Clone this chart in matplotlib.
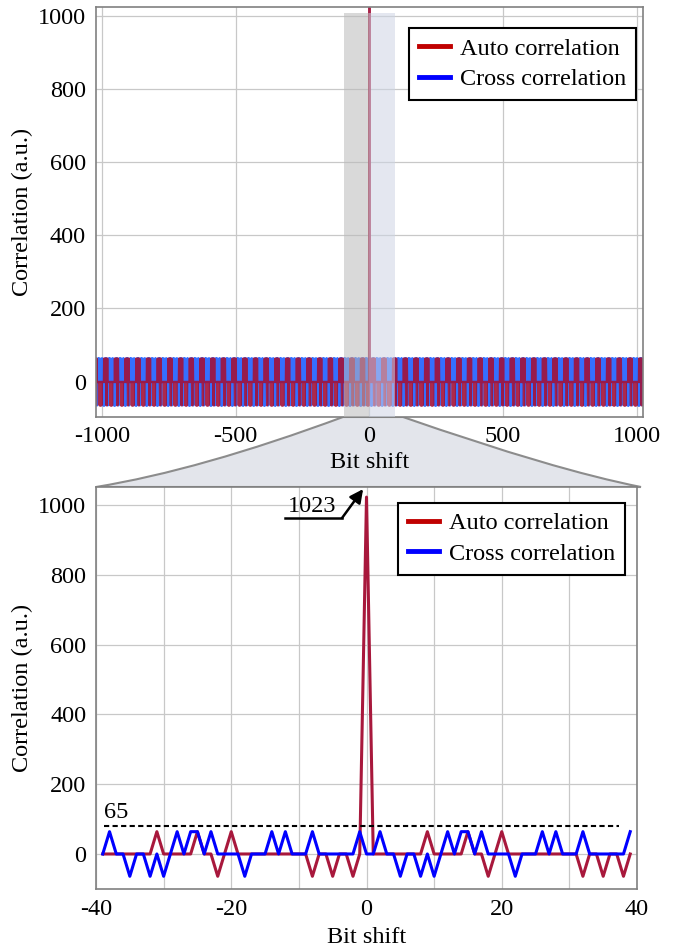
import numpy as np
import matplotlib.pyplot as plt
from matplotlib.lines import Line2D
from matplotlib.patches import PathPatch, Rectangle
from matplotlib.path import Path

plt.rcParams['font.family'] = ['Liberation Serif', 'DejaVu Serif']
plt.rcParams['axes.unicode_minus'] = False

# one 40-bit period, shifts -39..0 (the zoom repeats it)
auto_pattern = np.array([-1, -1, -1, -1, -1, -1, -1, -1, 63, -1,
                         -1, -1, -1, -1, 63, -1, -1, -65, -1, 63,
                         -1, -1, -1, -1, -1, -1, -1, -1, -1, -1,
                         -1, -65, -1, -1, -65, -1, -1, -65, -1, -1])
cross_pattern = np.array([-1, 63, -1, -1, -65, -1, -1, -65, -1, -65,
                          -1, 63, -1, 63, 63, -1, 63, -1, -1, -1,
                          -1, -65, -1, -1, -1, 63, -1, 63, -1, -1,
                          -1, 63, -1, -1, -1, -1, -1, -1, 63, -1])
auto_peak = 1023
code_len = 1023
zoom_shift = np.arange(-39, 40)
full_shift = np.arange(-code_len, code_len + 1)
threshold = 65

def series(shift):
    idx = (shift + 39) % 40
    auto = auto_pattern[idx].astype(float)
    auto[shift == 0] = auto_peak
    return auto, cross_pattern[idx]

auto_full, cross_full = series(full_shift)
auto_zoom, cross_zoom = series(zoom_shift)

FS = 17.5
W, H = 694, 952
fig = plt.figure(figsize=(W / 100, H / 100), dpi=100)
ax1 = fig.add_axes([95.7 / W, 1 - 416.7 / H, 547.3 / W, 410 / H])
ax2 = fig.add_axes([96 / W, 1 - 889 / H, 541 / W, 402 / H])

red_line = '#a8183c'
leg_handles = [Line2D([], [], color='#c00000', lw=3.5),
               Line2D([], [], color='#0000ff', lw=3.5)]
leg_labels = ['Auto correlation', 'Cross correlation']

for ax in (ax1, ax2):
    for s in ax.spines.values():
        s.set_color('#808080')
        s.set_linewidth(1.2)
    ax.tick_params(which='both', length=0, labelsize=FS, pad=7)
    ax.set_axisbelow(True)

# --- top: full range ---
ax1.plot(full_shift, cross_full, color='#1f5fff', lw=1.7, alpha=0.9, zorder=2)
ax1.plot(full_shift, auto_full, color='#a3123a', lw=1.7, alpha=0.9, zorder=2)
ax1.add_patch(Rectangle((-95, -96), 95, 1104, facecolor='#bababa', alpha=0.55,
                        edgecolor='none', zorder=3))
ax1.add_patch(Rectangle((0, -96), 95, 1104, facecolor='#ced5e4', alpha=0.55,
                        edgecolor='none', zorder=3))
ax1.set_xlim(-1023, 1023)
ax1.set_ylim(-96, 1025)
ax1.set_xticks([-1000, -500, 0, 500, 1000])
ax1.set_yticks([0, 200, 400, 600, 800, 1000])
ax1.grid(True, color='#c8c8c8', lw=0.9)
ax1.set_xlabel('Bit shift', fontsize=FS)
ax1.set_ylabel('Correlation (a.u.)', fontsize=FS)
ax1.xaxis.set_label_coords(0.5, -0.085)
ax1.yaxis.set_label_coords(-0.115, 0.5)
leg1 = ax1.legend(leg_handles, leg_labels, loc='upper left', bbox_to_anchor=(0.5725, 0.948),
                  borderaxespad=0, fancybox=False, edgecolor='black', framealpha=1,
                  fontsize=FS, borderpad=0.4, labelspacing=0.35, handlelength=1.3,
                  handletextpad=0.4)
leg1.get_frame().set_linewidth(1.5)

# --- bottom: zoom around zero shift ---
ax2.plot(zoom_shift, auto_zoom, color=red_line, lw=2.2, zorder=2)
ax2.plot(zoom_shift, cross_zoom, color='blue', lw=2.2, zorder=3)
ax2.plot([-38.8, 37.3], [79, 79], color='black', lw=1.5, ls=(0, (2.5, 1.6)), zorder=4)
ax2.text(-37.0, 119, str(threshold), fontsize=FS, ha='center', va='center')
ax2.text(-8.0, 996, str(auto_peak), fontsize=FS, ha='center', va='center')
ax2.plot([-12.05, -3.62], [963, 963], color='black', lw=1.8, zorder=4)
ax2.annotate('', xy=(-0.5, 1046), xytext=(-3.62, 963),
             arrowprops=dict(arrowstyle='-|>', color='black', lw=1.8,
                             mutation_scale=20, shrinkA=0, shrinkB=0))
ax2.set_xlim(-40, 40)
ax2.set_ylim(-101.5, 1052)
ax2.set_xticks([-40, -20, 0, 20, 40])
ax2.set_xticks(np.arange(-30, 40, 20), minor=True)
ax2.set_yticks([0, 200, 400, 600, 800, 1000])
ax2.grid(True, which='both', color='#c8c8c8', lw=0.9)
ax2.set_xlabel('Bit shift', fontsize=FS)
ax2.set_ylabel('Correlation (a.u.)', fontsize=FS)
ax2.xaxis.set_label_coords(0.5, -0.095)
ax2.yaxis.set_label_coords(-0.1165, 0.5)
leg2 = ax2.legend(leg_handles, leg_labels, loc='upper left', bbox_to_anchor=(0.558, 0.961),
                  borderaxespad=0, fancybox=False, edgecolor='black', framealpha=1,
                  fontsize=FS, borderpad=0.4, labelspacing=0.35, handlelength=1.3,
                  handletextpad=0.4)
leg2.get_frame().set_linewidth(1.5)

# --- zoom connector between the panels (pixel coords -> figure fraction) ---
pts = [(343, 417), (200, 470), (96, 487), (641, 487), (555, 470), (403, 417), (343, 417)]
codes = [Path.MOVETO, Path.CURVE3, Path.CURVE3, Path.LINETO, Path.CURVE3, Path.CURVE3,
         Path.CLOSEPOLY]
verts = [(x / W, 1 - y / H) for x, y in pts]
fig.add_artist(PathPatch(Path(verts, codes), facecolor='#e3e5eb', edgecolor='#8c8c8c',
                         lw=1.5, transform=fig.transFigure, zorder=-1))

fig.savefig('out.png', dpi=100)
